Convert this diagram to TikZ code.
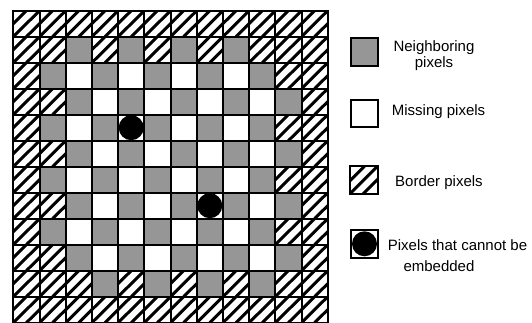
\documentclass[tikz,border=0pt]{standalone}
\usepackage{fontspec}
\setmainfont{Liberation Sans}
\definecolor{nbgray}{RGB}{150,150,150}
\tikzset{
  pixcell/.style={draw, line width=2pt, inner sep=0pt, outer sep=0pt, minimum width=26.2pt, minimum height=26pt},
  cell G/.style={pixcell, fill=nbgray},
  cell W/.style={pixcell, fill=white},
  cell H/.style={pixcell, fill=white, path picture={
      \foreach \s in {-13.1,0,13.1}
        \draw[line width=3pt] ([xshift=\s pt]path picture bounding box.south west) -- ([xshift=\s pt]path picture bounding box.north east);}},
  keybox/.style={minimum width=27.5pt, minimum height=27.5pt},
  dotpix/.style={circle, fill=black, inner sep=0pt, minimum size=25pt},
  legendtext/.style={font=\fontsize{15}{17}\selectfont, inner sep=0pt}
}

\begin{document}
\begin{tikzpicture}[x=1pt,y=-1pt]
  \useasboundingbox (0,0) rectangle (532,323);
  % pixel grid, row by row from the top
  \foreach \pixrow [count=\r from 0] in {
    {H,H,H,H,H,H,H,H,H,H,H,H},
    {H,H,G,H,G,H,G,H,G,H,H,H},
    {H,G,W,G,W,G,W,G,W,G,H,H},
    {H,H,G,W,G,W,G,W,G,W,G,H},
    {H,G,W,G,W,G,W,G,W,G,H,H},
    {H,H,G,W,G,W,G,W,G,W,G,H},
    {H,G,W,G,W,G,W,G,W,G,H,H},
    {H,H,G,W,G,W,G,W,G,W,G,H},
    {H,G,W,G,W,G,W,G,W,G,H,H},
    {H,H,G,W,G,W,G,W,G,W,G,H},
    {H,H,H,G,H,G,H,G,H,G,H,H},
    {H,H,H,H,H,H,H,H,H,H,H,H}}{
    \foreach \pix [count=\k from 0] in \pixrow
      \node[cell \pix] (p-\r-\k) at ({13.3+26.2*(\k+0.5)},{10.7+26*(\r+0.5)}) {};
  }
  \node[dotpix] (dot-a) at (p-4-4) {};
  \node[dotpix] (dot-b) at (p-7-7) {};

  % legend
  \node[cell G, keybox] (key-nb) at (364.3,52) {};
  \node[cell W, keybox] (key-miss) at (364.5,113.3) {};
  \node[cell H, keybox] (key-border) at (363.8,180) {};
  \node[cell W, keybox] (key-dot) at (364.5,243.8) {};
  \node[dotpix] (key-dotfill) at (key-dot) {};

  \node[legendtext, anchor=base] (txt-nb1) at (434,51.7) {Neighboring};
  \node[legendtext, anchor=base] (txt-nb2) at (434,67.5) {pixels};
  \node[legendtext, anchor=base west] (txt-miss) at (391.7,116) {Missing pixels};
  \node[legendtext, anchor=base west] (txt-border) at (395,186.7) {Border pixels};
  \node[legendtext, anchor=base west] (txt-dot1) at (387.7,250) {Pixels that cannot be};
  \node[legendtext, anchor=base west] (txt-dot2) at (403.3,271) {embedded};
\end{tikzpicture}
\end{document}
